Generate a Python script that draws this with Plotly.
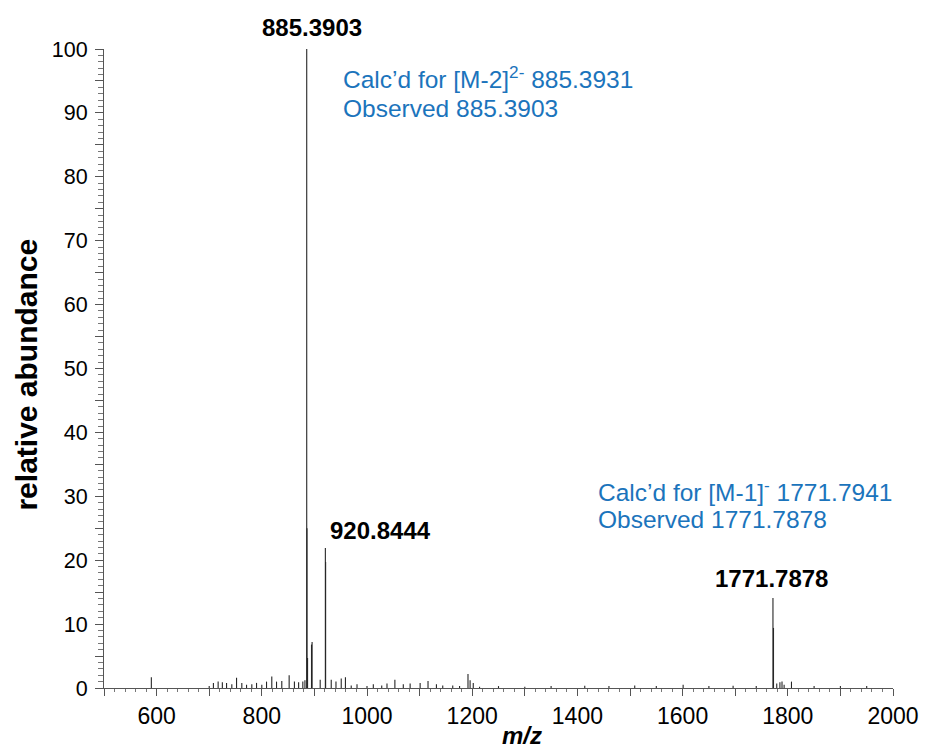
import plotly.graph_objects as go

# Peak list of the negative-ion ESI spectrum: m/z and relative abundance (%)
peak_mz = [
    590, 700, 708, 717, 725, 733, 743, 752, 762, 771, 781, 790, 800, 809,
    819, 828, 838, 852, 862, 870, 878, 882,
    885.3903, 885.89, 887.0, 894.5, 895.6, 911, 920.8444, 921.34,
    932, 941, 951, 959, 970, 981, 1000, 1012, 1028, 1038, 1053, 1069,
    1082, 1101, 1116, 1132, 1144, 1163, 1176, 1192, 1196, 1202, 1214,
    1250, 1300, 1350, 1414, 1460, 1509, 1550, 1601, 1650, 1696, 1740,
    1771.7878, 1772.79, 1779, 1785, 1789, 1793, 1807, 1850, 1900, 1950,
]
peak_int = [
    1.7, 0.3, 0.8, 1.0, 0.9, 0.8, 0.6, 1.6, 0.8, 0.5, 0.6, 0.8, 0.5, 1.0,
    1.8, 1.0, 1.1, 2.0, 1.0, 0.9, 1.0, 1.2,
    100.0, 25.0, 4.7, 6.8, 7.2, 1.3, 21.9, 19.7,
    1.3, 1.0, 1.5, 1.7, 0.4, 0.6, 0.3, 0.6, 0.4, 0.7, 1.3, 0.6,
    0.7, 0.8, 1.1, 0.6, 0.4, 0.4, 0.3, 2.2, 1.2, 0.8, 0.2,
    0.3, 0.2, 0.3, 0.35, 0.3, 0.4, 0.3, 0.5, 0.3, 0.35, 0.3,
    14.1, 9.4, 0.7, 0.9, 1.0, 0.5, 1.0, 0.3, 0.3, 0.3,
]

# Labelled peaks
label_mz = [885.3903, 920.8444, 1771.7878]
label_int = [100.0, 21.9, 14.1]

x_tick_vals = list(range(500, 2001, 100))
x_tick_text = [str(v) if v % 200 == 0 else "" for v in x_tick_vals]
y_tick_vals = list(range(0, 101, 5))
y_tick_text = [str(v) if v % 10 == 0 else "" for v in y_tick_vals]

FONT = "Liberation Sans, Arial, sans-serif"
BLUE = "#1b74bc"

# Stick spectrum: one vertical segment per peak
xs, ys = [], []
for m, h in zip(peak_mz, peak_int):
    xs += [m, m, None]
    ys += [0, h, None]

fig = go.Figure()
fig.add_trace(go.Scatter(
    x=xs, y=ys, mode="lines",
    line=dict(color="#262626", width=1.1),
    hoverinfo="skip", cliponaxis=False, showlegend=False,
))

fig.update_layout(
    width=925, height=751,
    margin=dict(l=104, r=32, t=49, b=63, autoexpand=False),
    paper_bgcolor="white", plot_bgcolor="white",
    font=dict(family=FONT, color="black"),
    showlegend=False,
)

fig.update_xaxes(
    range=[500, 2000], showgrid=False, zeroline=False,
    showline=True, linecolor="#555", linewidth=1,
    tickmode="array", tickvals=x_tick_vals, ticktext=x_tick_text,
    ticks="outside", ticklen=7, tickcolor="#555", tickwidth=1,
    tickfont=dict(size=23, family=FONT),
    minor=dict(dtick=20, tick0=500, ticks="outside", ticklen=3, tickcolor="#777"),
)
fig.update_yaxes(
    range=[0, 100], showgrid=False, zeroline=False,
    showline=True, linecolor="#555", linewidth=1,
    tickmode="array", tickvals=y_tick_vals, ticktext=y_tick_text,
    ticks="outside", ticklen=8, tickcolor="#555", tickwidth=1,
    ticklabelstandoff=3,
    tickfont=dict(size=21.5, family=FONT),
    minor=dict(dtick=1, tick0=0, ticks="outside", ticklen=5, tickcolor="#777"),
)

annotations = []
# Peak m/z labels
annotations.append(dict(x=label_mz[0], y=1.033, xref="x", yref="paper",
                        text="<b>885.3903</b>", showarrow=False,
                        xanchor="center", yanchor="middle", xshift=5,
                        font=dict(size=24, family=FONT, color="black")))
annotations.append(dict(x=label_mz[1], y=24.7, xref="x", yref="y",
                        text="<b>920.8444</b>", showarrow=False,
                        xanchor="left", yanchor="middle", xshift=3,
                        font=dict(size=24, family=FONT, color="black")))
annotations.append(dict(x=label_mz[2], y=17.2, xref="x", yref="y",
                        text="<b>1771.7878</b>", showarrow=False,
                        xanchor="center", yanchor="middle", xshift=-1,
                        font=dict(size=24, family=FONT, color="black")))

# Calculated vs observed notes
notes = [
    (951.0, 95.6, "Calc’d for [M-2]<sup>2-</sup> 885.3931"),
    (951.0, 90.7, "Observed 885.3903"),
    (1435.5, 30.9, "Calc’d for [M-1]<sup>-</sup> 1771.7941"),
    (1435.5, 26.4, "Observed 1771.7878"),
]
for nx, ny, txt in notes:
    annotations.append(dict(x=nx, y=ny, xref="x", yref="y", text=txt,
                            showarrow=False, xanchor="left", yanchor="middle",
                            font=dict(size=24.5, family=FONT, color=BLUE)))

# Axis titles
annotations.append(dict(x=-0.098, y=0.49, xref="paper", yref="paper",
                        text="<b>relative abundance</b>", textangle=-90,
                        showarrow=False, xanchor="center", yanchor="middle",
                        font=dict(size=30, family=FONT, color="black")))
annotations.append(dict(x=0.53, y=-0.074, xref="paper", yref="paper",
                        text="<b><i>m/z</i></b>", showarrow=False,
                        xanchor="center", yanchor="middle",
                        font=dict(size=24, family=FONT, color="black")))

fig.update_layout(annotations=annotations)
fig.write_html("out.html")
